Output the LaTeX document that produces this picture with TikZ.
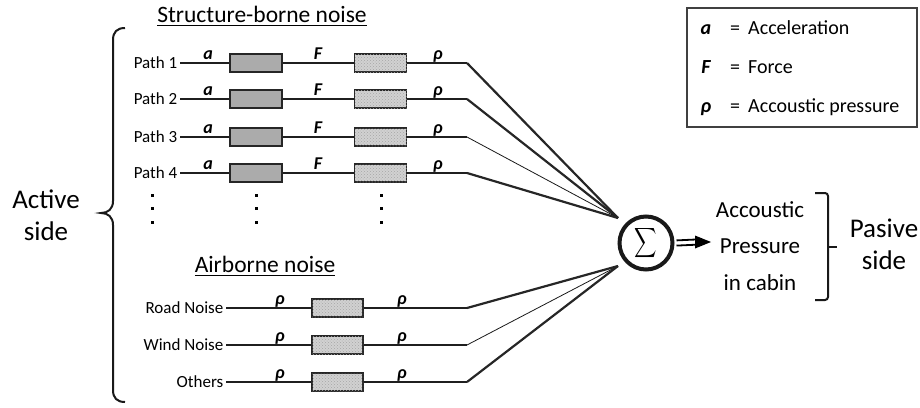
\documentclass[tikz,border=0pt]{standalone}
\usepackage{amsmath}
\usepackage{fontspec}
\setmainfont{Carlito}
\usetikzlibrary{patterns,calc}
\begin{document}
\begin{tikzpicture}[x=1pt,y=-1pt,
  txt/.style={font=\fontsize{17}{20}\selectfont, inner xsep=2.5pt, inner ysep=0pt, anchor=east},
  head/.style={font=\fontsize{23.5}{26}\selectfont, anchor=base},
  big/.style={font=\fontsize{27}{32}\selectfont, align=center},
  sym/.style={font=\fontsize{18}{20}\selectfont\bfseries\itshape, anchor=base, inner sep=0pt},
  lsym/.style={font=\fontsize{20}{22}\selectfont\bfseries\itshape, anchor=base, inner sep=0pt},
  leg/.style={font=\fontsize{20}{22}\selectfont, inner sep=0pt, anchor=base},
  blkA/.style={draw=black!85, line width=1.6pt, fill=black!33, minimum width=52pt, minimum height=18pt, inner sep=0pt},
  blkB/.style={blkA, fill=black!18, postaction={pattern=crosshatch dots, pattern color=black!35}},
  wire/.style={line width=1.8pt, black!88},
  fan/.style={line width=2.2pt, black!85},
  fanthin/.style={line width=0.8pt, black!90},
  dot/.style={fill=black, minimum size=3pt, inner sep=0pt, draw=none, rectangle}
]
\useasboundingbox (0,0) rectangle (920,407);

% headings
\node[head] (t1) at (262,22) {\underline{Structure-borne noise}};
\node[head] (t2) at (265,272) {\underline{Airborne noise}};

% summing junction and its input points
\node[circle, draw=black!90, line width=4pt, minimum size=53pt, inner sep=0pt] (sig) at (646,243)
  {\scalebox{0.75}[1]{\fontsize{20}{22}\selectfont$\displaystyle\sum$}};
\coordinate (sin) at (618,218);
\coordinate (ain) at (618,266);

% structure-borne paths
\foreach \i/\y/\w in {1/63/fan,2/99/fan,3/137/fanthin,4/173/fan}{
  \node[txt] (p\i) at (180,\y) {Path \i};
  \node[blkA] (a\i) at (256,\y) {};
  \node[blkB] (b\i) at (380.5,\y) {};
  \coordinate (e\i) at (467,\y);
  \draw[wire] (p\i.east) -- (a\i.west);
  \draw[wire] (a\i.east) -- (b\i.west);
  \draw[wire] (b\i.east) -- (e\i);
  \draw[\w] (e\i) -- (sin);
  \node[sym] (la\i) at (208,\y-4) {a};
  \node[sym] (lf\i) at (318,\y-4) {F};
  \node[sym] (lr\i) at (438,\y-4) {ρ};
}

% continuation dots
\foreach \x [count=\k] in {152,256,381}{
  \node[dot] (d\k a) at (\x,195) {};
  \node[dot] (d\k b) at (\x,208.5) {};
  \node[dot] (d\k c) at (\x,222) {};
}

% airborne paths
\foreach \i/\y/\name/\w in {1/308/Road Noise/fan,2/345/Wind Noise/fanthin,3/382/Others/fan}{
  \node[txt] (q\i) at (226,\y) {\name};
  \node[blkB, minimum width=51pt] (c\i) at (337.5,\y) {};
  \coordinate (f\i) at (467,\y);
  \draw[wire] (q\i.east) -- (c\i.west);
  \draw[wire] (c\i.east) -- (f\i);
  \draw[\w] (f\i) -- (ain);
  \node[sym] (m\i) at (280,\y-4) {ρ};
  \node[sym] (n\i) at (402,\y-4) {ρ};
}

% active side brace
\draw[line width=2pt, black!90] (125,28) .. controls (117,28) and (113,32) .. (113,40) -- (113,201)
  .. controls (113,209) and (108,213) .. (101,213) .. controls (108,213) and (113,217) .. (113,225)
  -- (113,390) .. controls (113,398) and (117,402) .. (125,402);
\node[big] (act) at (46,215) {Active\\side};

% output, fed by a double-shafted arrow
\node[font=\fontsize{23}{36.5}\selectfont, align=center] (out) at (760,246) {Accoustic\\Pressure\\in cabin};
\coordinate (tip) at (711,242);
\draw[line width=1.8pt] ([xshift=2pt,yshift=2.6pt]sig.east) -- ([xshift=-13pt,yshift=2.6pt]tip);
\draw[line width=1.8pt] ([xshift=2pt,yshift=-2.6pt]sig.east) -- ([xshift=-13pt,yshift=-2.6pt]tip);
\fill ([xshift=-16pt,yshift=6.5pt]tip) -- (tip) -- ([xshift=-16pt,yshift=-6.5pt]tip) -- cycle;

% passive side bracket
\draw[line width=2pt, black!90, rounded corners=3pt] (815,193) -- (828,193) -- (828,300) -- (815,300);
\draw[line width=2pt, black!90] (828,247) -- (837,247);
\node[big] (pas) at (884,244) {Pasive\\side};

% legend
\node[draw=black!75, line width=2pt, minimum width=230pt, minimum height=119pt, inner sep=0pt] (legbox) at (802,67.5) {};
\foreach \k/\s/\t/\y in {a/a/Acceleration/34, f/F/Force/73, r/ρ/Accoustic pressure/112}{
  \node[lsym] (k\k) at (706,\y) {\s};
  \node[leg] (e\k) at (735,\y) {=};
  \node[leg, anchor=base west] (v\k) at (748,\y) {\t};
}
\end{tikzpicture}
\end{document}
